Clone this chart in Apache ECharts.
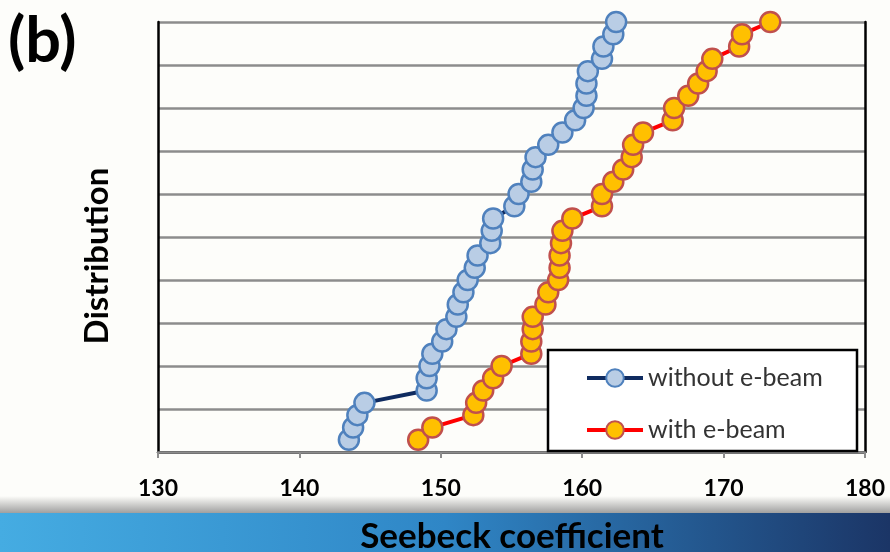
<!DOCTYPE html>
<html>
<head>
<meta charset="utf-8">
<script src="https://cdn.jsdelivr.net/npm/echarts@6/dist/echarts.min.js"></script>
<style>
  html, body { margin: 0; padding: 0; background: #fdfdfa; }
  #chart { width: 890px; height: 552px; }
</style>
</head>
<body>
<div id="chart"></div>
<script>
// Seebeck coefficient axis
const xMin = 130;
const xMax = 180;
const xStep = 10;

// Cumulative distribution (%) for each ranked sample
const cumulativePct = [
  2.86, 5.71, 8.57, 11.43, 14.29, 17.14, 20.00, 22.86, 25.71, 28.57,
  31.43, 34.29, 37.14, 40.00, 42.86, 45.71, 48.57, 51.43, 54.29, 57.14,
  60.00, 62.86, 65.71, 68.57, 71.43, 74.29, 77.14, 80.00, 82.86, 85.71,
  88.57, 91.43, 94.29, 97.14, 100.00
];

// Sorted Seebeck coefficients, without e-beam treatment
const withoutEbeam = [
  143.5, 143.8, 144.1, 144.6, 149.0, 149.0, 149.2, 149.4, 150.1, 150.4,
  151.1, 151.2, 151.6, 151.9, 152.4, 152.6, 153.5, 153.6, 153.7, 155.2,
  155.5, 156.4, 156.5, 156.7, 157.6, 158.6, 159.5, 160.1, 160.3, 160.3,
  160.4, 161.4, 161.5, 162.2, 162.4
];

// Sorted Seebeck coefficients, with e-beam treatment
const withEbeam = [
  148.4, 149.4, 152.3, 152.5, 153.0, 153.7, 154.3, 156.4, 156.4, 156.5,
  156.5, 157.4, 157.6, 158.3, 158.4, 158.4, 158.5, 158.6, 159.3, 161.4,
  161.4, 162.2, 162.9, 163.5, 163.6, 164.3, 166.4, 166.5, 167.5, 168.2,
  168.8, 169.2, 171.1, 171.3, 173.3
];

const seriesNames = ['without e-beam', 'with e-beam'];
const xTitle = 'Seebeck coefficient';
const yTitle = 'Distribution';
const panelLabel = '(b)';

const toPoints = vals => vals.map((v, i) => [v, cumulativePct[i]]);

const chart = echarts.init(document.getElementById('chart'));

const fontStack = 'Lato, "Open Sans", sans-serif';

chart.setOption({
  animation: false,
  backgroundColor: '#fdfdfa',
  grid: { left: 158, right: 25, top: 22, bottom: 100, outerBoundsMode: 'none', containLabel: false },
  xAxis: [
    {
      type: 'value', min: xMin, max: xMax, interval: xStep, position: 'bottom',
      z: 5,
      axisLine: { show: true, lineStyle: { color: '#8c8c8c', width: 2.5 } },
      axisTick: { show: true, length: 6, lineStyle: { color: '#8c8c8c', width: 2 } },
      axisLabel: { color: '#000', fontSize: 23, fontWeight: 'bold', fontFamily: fontStack, margin: 25 },
      splitLine: { show: false }
    },
    {
      type: 'value', min: xMin, max: xMax, interval: xStep, position: 'top',
      axisLine: { show: true, lineStyle: { color: '#000', width: 2.5 } },
      axisTick: { show: false }, axisLabel: { show: false }, splitLine: { show: false }
    }
  ],
  yAxis: [
    {
      type: 'value', min: 0, max: 100, interval: 10, position: 'left',
      axisLine: { show: true, lineStyle: { color: '#000', width: 2.5 } },
      axisTick: { show: false }, axisLabel: { show: false },
      splitLine: { show: true, lineStyle: { color: '#8c8c8c', width: 2.5 } }
    },
    {
      type: 'value', min: 0, max: 100, interval: 10, position: 'right',
      axisLine: { show: true, lineStyle: { color: '#000', width: 2.5 } },
      axisTick: { show: false }, axisLabel: { show: false }, splitLine: { show: false }
    }
  ],
  legend: {
    orient: 'vertical', left: 585, top: 365, z: 8,
    itemWidth: 56, itemHeight: 22, itemGap: 26, padding: 0,
    lineStyle: { width: 4 },
    textStyle: { color: '#333', fontSize: 25, fontFamily: fontStack, lineHeight: 26 },
    data: seriesNames
  },
  graphic: [
    // Footer band
    {
      type: 'rect', z: -10, silent: true,
      shape: { x: 0, y: 496, width: 890, height: 18 },
      style: { fill: new echarts.graphic.LinearGradient(0, 0, 0, 1, [
        { offset: 0, color: 'rgba(253,253,250,1)' },
        { offset: 1, color: '#9a9a9a' }
      ]) }
    },
    {
      type: 'rect', z: -10, silent: true,
      shape: { x: 0, y: 513, width: 890, height: 39 },
      style: { fill: new echarts.graphic.LinearGradient(0, 0, 1, 0, [
        { offset: 0, color: '#45ace2' },
        { offset: 0.5, color: '#2f86c6' },
        { offset: 1, color: '#1b3566' }
      ]) }
    },
    // Axis titles
    {
      type: 'text', x: 512, y: 537, z: 10,
      style: { text: xTitle, fill: '#000', font: 'bold 35px ' + fontStack, align: 'center', verticalAlign: 'middle' }
    },
    {
      type: 'text', x: 97, y: 256, rotation: Math.PI / 2, z: 10,
      style: { text: yTitle, fill: '#000', font: 'bold 33px ' + fontStack, align: 'center', verticalAlign: 'middle' }
    },
    // Panel label
    {
      type: 'text', x: 8, y: 42, z: 10,
      style: { text: panelLabel, fill: '#000', font: 'bold 63px ' + fontStack, align: 'left', verticalAlign: 'middle' }
    },
    // Legend frame, drawn over the axis line
    {
      type: 'rect', z: 7, silent: true,
      shape: { x: 548, y: 350, width: 309, height: 101 },
      style: { fill: '#ffffff', stroke: '#000', lineWidth: 2.5 }
    }
  ],
  series: [
    {
      name: seriesNames[0], type: 'line', xAxisIndex: 0, yAxisIndex: 0,
      data: toPoints(withoutEbeam),
      symbol: 'circle', symbolSize: 20,
      lineStyle: { color: '#0f2b60', width: 4 },
      itemStyle: { color: '#b9cde5', borderColor: '#4f81bd', borderWidth: 2.5 },
      z: 3
    },
    {
      name: seriesNames[1], type: 'line', xAxisIndex: 0, yAxisIndex: 0,
      data: toPoints(withEbeam),
      symbol: 'circle', symbolSize: 20,
      lineStyle: { color: '#ff0000', width: 4 },
      itemStyle: { color: '#ffc000', borderColor: '#c0504d', borderWidth: 2.5 },
      z: 3
    }
  ]
});
</script>
</body>
</html>
